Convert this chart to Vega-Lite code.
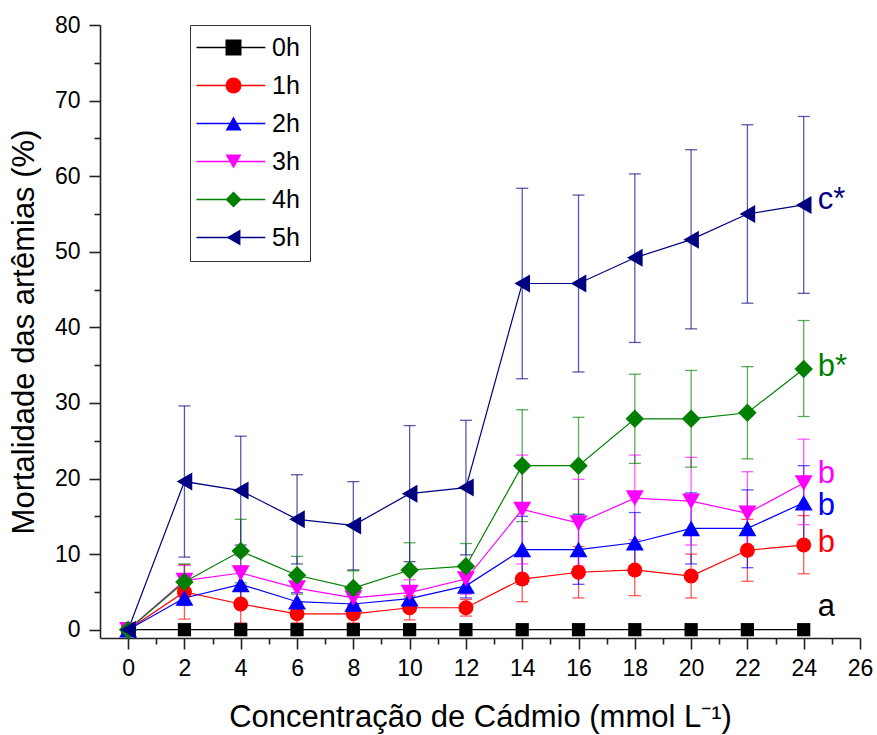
{
  "$schema": "https://vega.github.io/schema/vega-lite/v6.json",
  "width": 760,
  "height": 613,
  "autosize": {"type": "none"},
  "padding": {"left": 100, "top": 25, "right": 17, "bottom": 97},
  "config": {
    "view": {"stroke": null},
    "font": "Liberation Sans",
    "axis": {
      "grid": false,
      "domainColor": "#222222",
      "domainWidth": 1.6,
      "tickColor": "#222222",
      "tickWidth": 1.6,
      "labelColor": "#000000",
      "labelFont": "Liberation Sans",
      "labelFontSize": 23,
      "titleFont": "Liberation Sans",
      "titleFontSize": 31,
      "titleFontWeight": "normal",
      "titleColor": "#000000",
      "labelOverlap": false,
      "labelFlush": false
    },
    "legend": {"labelFont": "Liberation Sans", "labelColor": "#000000"}
  },
  "datasets": {
    "main": [
      {"s": "0h", "x": 0, "y": 0}, {"s": "0h", "x": 2, "y": 0}, {"s": "0h", "x": 4, "y": 0}, {"s": "0h", "x": 6, "y": 0}, {"s": "0h", "x": 8, "y": 0}, {"s": "0h", "x": 10, "y": 0}, {"s": "0h", "x": 12, "y": 0}, {"s": "0h", "x": 14, "y": 0}, {"s": "0h", "x": 16, "y": 0}, {"s": "0h", "x": 18, "y": 0}, {"s": "0h", "x": 20, "y": 0}, {"s": "0h", "x": 22, "y": 0}, {"s": "0h", "x": 24, "y": 0},
      {"s": "1h", "x": 0, "y": 0},
      {"s": "1h", "x": 2, "y": 5.0, "lo": 1.4, "hi": 8.6},
      {"s": "1h", "x": 4, "y": 3.4, "lo": 0.9, "hi": 5.9},
      {"s": "1h", "x": 6, "y": 2.1, "lo": 0.9, "hi": 3.3},
      {"s": "1h", "x": 8, "y": 2.1, "lo": 0.9, "hi": 3.3},
      {"s": "1h", "x": 10, "y": 2.9, "lo": 1.3, "hi": 4.5},
      {"s": "1h", "x": 12, "y": 2.9, "lo": 1.8, "hi": 4.0},
      {"s": "1h", "x": 14, "y": 6.7, "lo": 3.7, "hi": 9.7},
      {"s": "1h", "x": 16, "y": 7.6, "lo": 4.2, "hi": 11.0},
      {"s": "1h", "x": 18, "y": 7.9, "lo": 4.5, "hi": 11.3},
      {"s": "1h", "x": 20, "y": 7.1, "lo": 4.2, "hi": 10.0},
      {"s": "1h", "x": 22, "y": 10.5, "lo": 6.4, "hi": 14.6},
      {"s": "1h", "x": 24, "y": 11.2, "lo": 7.4, "hi": 15.1},
      {"s": "2h", "x": 0, "y": 0},
      {"s": "2h", "x": 2, "y": 4.2, "lo": 3.2, "hi": 5.2},
      {"s": "2h", "x": 4, "y": 6.0, "lo": 3.6, "hi": 8.4},
      {"s": "2h", "x": 6, "y": 3.7, "lo": 2.5, "hi": 4.9},
      {"s": "2h", "x": 8, "y": 3.4, "lo": 2.3, "hi": 4.5},
      {"s": "2h", "x": 10, "y": 4.1, "lo": 2.6, "hi": 5.6},
      {"s": "2h", "x": 12, "y": 5.8, "lo": 4.2, "hi": 7.4},
      {"s": "2h", "x": 14, "y": 10.6, "lo": 6.0, "hi": 15.0},
      {"s": "2h", "x": 16, "y": 10.6, "lo": 6.0, "hi": 15.2},
      {"s": "2h", "x": 18, "y": 11.5, "lo": 7.3, "hi": 15.5},
      {"s": "2h", "x": 20, "y": 13.4, "lo": 8.7, "hi": 18.1},
      {"s": "2h", "x": 22, "y": 13.4, "lo": 8.2, "hi": 18.5},
      {"s": "2h", "x": 24, "y": 16.8, "lo": 11.8, "hi": 21.7},
      {"s": "3h", "x": 0, "y": 0},
      {"s": "3h", "x": 2, "y": 6.5, "lo": 4.5, "hi": 8.5},
      {"s": "3h", "x": 4, "y": 7.5, "lo": 5.2, "hi": 9.8},
      {"s": "3h", "x": 6, "y": 5.5, "lo": 3.6, "hi": 7.4},
      {"s": "3h", "x": 8, "y": 4.2, "lo": 2.6, "hi": 5.8},
      {"s": "3h", "x": 10, "y": 4.9, "lo": 3.2, "hi": 6.6},
      {"s": "3h", "x": 12, "y": 6.7, "lo": 4.7, "hi": 8.7},
      {"s": "3h", "x": 14, "y": 15.9, "lo": 8.7, "hi": 23.1},
      {"s": "3h", "x": 16, "y": 14.1, "lo": 8.4, "hi": 19.9},
      {"s": "3h", "x": 18, "y": 17.4, "lo": 11.9, "hi": 23.1},
      {"s": "3h", "x": 20, "y": 17.0, "lo": 11.2, "hi": 22.8},
      {"s": "3h", "x": 22, "y": 15.4, "lo": 9.9, "hi": 20.9},
      {"s": "3h", "x": 24, "y": 19.4, "lo": 13.9, "hi": 25.2},
      {"s": "4h", "x": 0, "y": 0},
      {"s": "4h", "x": 2, "y": 6.3, "lo": 3.9, "hi": 8.7},
      {"s": "4h", "x": 4, "y": 10.4, "lo": 6.2, "hi": 14.6},
      {"s": "4h", "x": 6, "y": 7.2, "lo": 4.7, "hi": 9.7},
      {"s": "4h", "x": 8, "y": 5.5, "lo": 3.2, "hi": 7.8},
      {"s": "4h", "x": 10, "y": 7.9, "lo": 4.3, "hi": 11.5},
      {"s": "4h", "x": 12, "y": 8.4, "lo": 5.4, "hi": 11.4},
      {"s": "4h", "x": 14, "y": 21.7, "lo": 14.3, "hi": 29.1},
      {"s": "4h", "x": 16, "y": 21.7, "lo": 15.3, "hi": 28.1},
      {"s": "4h", "x": 18, "y": 27.9, "lo": 22.0, "hi": 33.8},
      {"s": "4h", "x": 20, "y": 27.9, "lo": 21.5, "hi": 34.3},
      {"s": "4h", "x": 22, "y": 28.7, "lo": 22.6, "hi": 34.8},
      {"s": "4h", "x": 24, "y": 34.5, "lo": 28.2, "hi": 40.9},
      {"s": "5h", "x": 0, "y": 0},
      {"s": "5h", "x": 2, "y": 19.6, "lo": 9.6, "hi": 29.6},
      {"s": "5h", "x": 4, "y": 18.4, "lo": 11.2, "hi": 25.6},
      {"s": "5h", "x": 6, "y": 14.6, "lo": 8.7, "hi": 20.5},
      {"s": "5h", "x": 8, "y": 13.8, "lo": 7.9, "hi": 19.6},
      {"s": "5h", "x": 10, "y": 18.0, "lo": 9.0, "hi": 27.0},
      {"s": "5h", "x": 12, "y": 18.8, "lo": 9.9, "hi": 27.7},
      {"s": "5h", "x": 14, "y": 45.8, "lo": 33.2, "hi": 58.4},
      {"s": "5h", "x": 16, "y": 45.8, "lo": 34.1, "hi": 57.5},
      {"s": "5h", "x": 18, "y": 49.2, "lo": 38.0, "hi": 60.3},
      {"s": "5h", "x": 20, "y": 51.6, "lo": 39.8, "hi": 63.5},
      {"s": "5h", "x": 22, "y": 55.0, "lo": 43.2, "hi": 66.8},
      {"s": "5h", "x": 24, "y": 56.2, "lo": 44.5, "hi": 67.9}
    ],
    "notes": [
      {"s": "5h", "x": 24.5, "y": 56.9, "t": "c*"},
      {"s": "4h", "x": 24.5, "y": 34.8, "t": "b*"},
      {"s": "3h", "x": 24.5, "y": 20.6, "t": "b"},
      {"s": "2h", "x": 24.5, "y": 16.4, "t": "b"},
      {"s": "1h", "x": 24.5, "y": 11.5, "t": "b"},
      {"s": "0h", "x": 24.5, "y": 3.0, "t": "a"}
    ]
  },
  "encoding": {
    "x": {
      "field": "x", "type": "quantitative",
      "scale": {"domain": [-1, 26], "nice": false, "zero": false},
      "axis": {
        "title": "Concentração de Cádmio (mmol L⁻¹)",
        "values": [0,1,2,3,4,5,6,7,8,9,10,11,12,13,14,15,16,17,18,19,20,21,22,23,24,25,26],
        "labelExpr": "datum.value % 2 == 0 ? datum.label : ''",
        "tickSize": {"condition": {"test": "datum.value % 2 == 0", "value": 11}, "value": 6},
        "labelPadding": 8,
        "titlePadding": 22
      }
    },
    "y": {
      "field": "y", "type": "quantitative",
      "scale": {"domain": [-1.1, 80], "nice": false, "zero": false},
      "axis": {
        "title": "Mortalidade das artêmias (%)",
        "values": [0,5,10,15,20,25,30,35,40,45,50,55,60,65,70,75,80],
        "labelExpr": "datum.value % 10 == 0 ? datum.label : ''",
        "tickSize": {"condition": {"test": "datum.value % 10 == 0", "value": 11}, "value": 6},
        "labelPadding": 9,
        "titlePadding": 14
      }
    }
  },
  "layer": [
    {
      "data": {"name": "main"},
      "transform": [{"filter": "isValid(datum.lo)"}],
      "mark": {"type": "rule", "strokeWidth": 1.3, "opacity": 0.65},
      "encoding": {
        "y": {"field": "lo", "type": "quantitative"},
        "y2": {"field": "hi"},
        "color": {"field": "s", "type": "nominal", "legend": null,
          "scale": {"range": ["#000000","#ff0000","#0000ff","#ff00ff","#008000","#000080"]}}
      }
    },
    {
      "data": {"name": "main"},
      "transform": [{"filter": "isValid(datum.lo)"}],
      "mark": {"type": "tick", "orient": "horizontal", "size": 12, "thickness": 1.3, "opacity": 0.65},
      "encoding": {
        "y": {"field": "lo", "type": "quantitative"},
        "color": {"field": "s", "type": "nominal", "legend": null}
      }
    },
    {
      "data": {"name": "main"},
      "transform": [{"filter": "isValid(datum.hi)"}],
      "mark": {"type": "tick", "orient": "horizontal", "size": 12, "thickness": 1.3, "opacity": 0.65},
      "encoding": {
        "y": {"field": "hi", "type": "quantitative"},
        "color": {"field": "s", "type": "nominal", "legend": null}
      }
    },
    {
      "data": {"name": "main"},
      "mark": {"type": "line", "strokeWidth": 1.2},
      "encoding": {
        "stroke": {"field": "s", "type": "nominal",
          "scale": {"range": ["#000000","#ff0000","#0000ff","#ff00ff","#008000","#000080"]},
          "legend": {"orient": "none", "legendX": 90, "legendY": 0, "title": null, "padding": 10, "rowPadding": 12,
            "labelFontSize": 25, "labelOffset": 47, "symbolType": "M-2,0L6.6,0", "symbolSize": 256, "symbolStrokeWidth": 1.3,
            "strokeColor": "#333333", "fillColor": "#ffffff", "zindex": 1}
        }
      }
    },
    {
      "data": {"name": "main"},
      "mark": {"type": "point", "filled": true, "opacity": 1, "strokeWidth": 0},
      "encoding": {
        "fill": {"field": "s", "type": "nominal",
          "scale": {"domain": ["0h","1h","2h","3h","4h","5h"], "range": ["#000000","#ff0000","#0000ff","#ff00ff","#008000","#000080"]},
          "legend": {"orient": "none", "legendX": 111, "legendY": 0, "title": null, "padding": 10, "rowPadding": 12,
            "labelFontSize": 25, "labelExpr": "' '", "symbolSize": 256, "symbolStrokeWidth": 0, "symbolOpacity": 1, "zindex": 2}
        },
        "shape": {"field": "s", "type": "nominal",
          "scale": {"domain": ["0h","1h","2h","3h","4h","5h"], "range": ["square","circle","triangle-up","triangle-down","diamond","triangle-left"]}
        },
        "size": {"field": "s", "type": "nominal", "legend": null,
          "scale": {"type": "ordinal", "range": [175, 225, 324, 324, 342, 324]}}
      }
    },
    {
      "data": {"name": "notes"},
      "mark": {"type": "text", "align": "left", "baseline": "middle", "fontSize": 31, "font": "Liberation Sans"},
      "encoding": {
        "text": {"field": "t"},
        "color": {"field": "s", "type": "nominal", "legend": null}
      }
    }
  ]
}
